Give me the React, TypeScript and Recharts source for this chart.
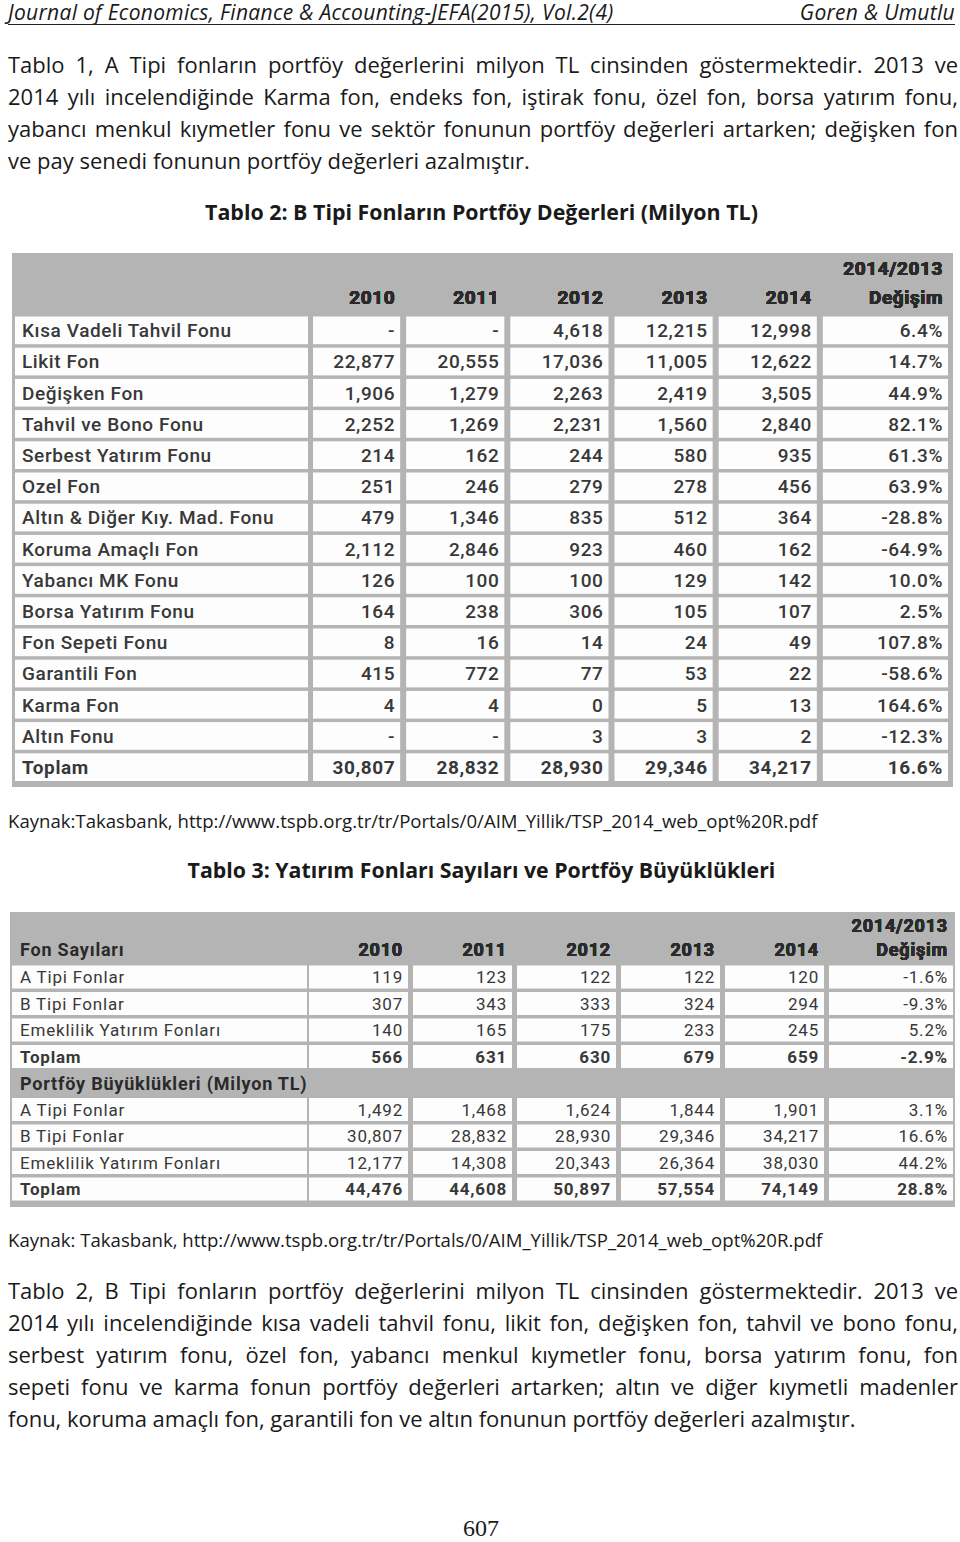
import React from 'react';
import { ScatterChart, Scatter, XAxis, YAxis } from 'recharts';

// Tablo 2: B Tipi Fonların Portföy Değerleri (Milyon TL)
const bFundNames = [
  'Kısa Vadeli Tahvil Fonu',
  'Likit Fon',
  'Değişken Fon',
  'Tahvil ve Bono Fonu',
  'Serbest Yatırım Fonu',
  'Ozel Fon',
  'Altın & Diğer Kıy. Mad. Fonu',
  'Koruma Amaçlı Fon',
  'Yabancı MK Fonu',
  'Borsa Yatırım Fonu',
  'Fon Sepeti Fonu',
  'Garantili Fon',
  'Karma Fon',
  'Altın Fonu',
  'Toplam',
];
const bValues2010 = [null, 22877, 1906, 2252, 214, 251, 479, 2112, 126, 164, 8, 415, 4, null, 30807];
const bValues2011 = [null, 20555, 1279, 1269, 162, 246, 1346, 2846, 100, 238, 16, 772, 4, null, 28832];
const bValues2012 = [4618, 17036, 2263, 2231, 244, 279, 835, 923, 100, 306, 14, 77, 0, 3, 28930];
const bValues2013 = [12215, 11005, 2419, 1560, 580, 278, 512, 460, 129, 105, 24, 53, 5, 3, 29346];
const bValues2014 = [12998, 12622, 3505, 2840, 935, 456, 364, 162, 142, 107, 49, 22, 13, 2, 34217];
const bChange = [6.4, 14.7, 44.9, 82.1, 61.3, 63.9, -28.8, -64.9, 10.0, 2.5, 107.8, -58.6, 164.6, -12.3, 16.6];

// Tablo 3: Yatırım Fonları Sayıları ve Portföy Büyüklükleri
const fundTypes = ['A Tipi Fonlar', 'B Tipi Fonlar', 'Emeklilik Yatırım Fonları', 'Toplam'];
const count2010 = [119, 307, 140, 566];
const count2011 = [123, 343, 165, 631];
const count2012 = [122, 333, 175, 630];
const count2013 = [122, 324, 233, 679];
const count2014 = [120, 294, 245, 659];
const countChange = [-1.6, -9.3, 5.2, -2.9];
const size2010 = [1492, 30807, 12177, 44476];
const size2011 = [1468, 28832, 14308, 44608];
const size2012 = [1624, 28930, 20343, 50897];
const size2013 = [1844, 29346, 26364, 57554];
const size2014 = [1901, 34217, 38030, 74149];
const sizeChange = [3.1, 16.6, 44.2, 28.8];

const years = ['2010', '2011', '2012', '2013', '2014'];
const columns = [...years, 'change'];

type TableRow = { label: string; values: (number | null)[]; change: number | null; bold?: boolean; section?: boolean };

const table2Rows: TableRow[] = bFundNames.map((label, i) => ({
  label,
  values: [bValues2010[i], bValues2011[i], bValues2012[i], bValues2013[i], bValues2014[i]],
  change: bChange[i],
  bold: label === 'Toplam',
}));

const table3Rows: TableRow[] = [
  ...fundTypes.map((label, i) => ({
    label,
    values: [count2010[i], count2011[i], count2012[i], count2013[i], count2014[i]],
    change: countChange[i],
    bold: label === 'Toplam',
  })),
  { label: 'Portföy Büyüklükleri (Milyon TL)', values: [], change: null, section: true },
  ...fundTypes.map((label, i) => ({
    label,
    values: [size2010[i], size2011[i], size2012[i], size2013[i], size2014[i]],
    change: sizeChange[i],
    bold: label === 'Toplam',
  })),
];

const fmtNum = (v: number | null | undefined) => (v == null ? '-' : v.toLocaleString('en-US'));
const fmtPct = (v: number | null) => (v == null ? '' : `${v.toFixed(1)}%`);

const toPoints = (rows: TableRow[]) =>
  rows.flatMap((r, i) =>
    columns.map((col, j) => ({
      rowKey: `r${i}`,
      col,
      text: r.section ? '' : j < years.length ? fmtNum(r.values[j]) : fmtPct(r.change),
      bold: !!r.bold,
      section: !!r.section,
    }))
  );

interface Layout {
  width: number;
  height: number;
  headerH: number;
  rowH: number;
  labelLeft: number;
  labelRight: number;
  plotLeft: number;
  plotRight: number;
  changeExt: number;
  cellGap: number;
  firstGap: number;
  textPad: number;
  labelPad: number;
  fontSize: number;
  headSize: number;
  letterSpacing: number;
  rowWeight: number;
  topY: number;
  yearY: number;
  cornerLabel?: string;
}

const tableFont = 'Roboto, "Liberation Sans", sans-serif';
const ink = '#383838';
const gray = '#b4b4b4';

function DataTable({ rows, L }: { rows: TableRow[]; L: Layout }) {
  const band = (L.plotRight - L.plotLeft) / columns.length;
  const bottom = L.height - L.headerH - rows.length * L.rowH;
  const points = toPoints(rows);
  const txt = { fontFamily: tableFont, fontSize: L.fontSize, letterSpacing: L.letterSpacing, fill: ink };
  const head = { ...txt, fontSize: L.headSize, fontWeight: 700, fill: '#2a2a2a' };

  // snap the scale's positions to band edges so cells tile cleanly
  const snapX = (x: number) => L.plotLeft + Math.round((x - L.plotLeft - band / 2) / band) * band;
  const snapY = (y: number) => L.headerH + Math.round((y - L.headerH - L.rowH / 2) / L.rowH) * L.rowH;

  const headerTick = (props: any) => {
    const { x, payload } = props;
    const isChange = payload.value === 'change';
    const start = snapX(x);
    const right = start + band - 1 - L.textPad + (isChange ? L.changeExt : 0);
    return (
      <g>
        {payload.index === 0 && L.cornerLabel && (
          <text x={L.labelLeft + L.labelPad} y={L.yearY} dominantBaseline="central" {...head}>
            {L.cornerLabel}
          </text>
        )}
        {isChange ? (
          <>
            <text x={right} y={L.topY} textAnchor="end" dominantBaseline="central" {...head}>
              2014/2013
            </text>
            <text x={right} y={L.yearY} textAnchor="end" dominantBaseline="central" {...head}>
              Değişim
            </text>
          </>
        ) : (
          <text x={right} y={L.yearY} textAnchor="end" dominantBaseline="central" {...head}>
            {payload.value}
          </text>
        )}
      </g>
    );
  };

  const rowTick = (props: any) => {
    const { y, payload } = props;
    const row = rows[Number(String(payload.value).slice(1))];
    if (!row) return <g />;
    const top = snapY(y);
    const mid = top + L.rowH / 2;
    if (row.section) {
      return (
        <text x={L.labelLeft + L.labelPad} y={mid} dominantBaseline="central" {...head}>
          {row.label}
        </text>
      );
    }
    return (
      <g>
        <rect x={L.labelLeft} y={top + 1.5} width={L.labelRight - L.labelLeft} height={L.rowH - 3.5} fill="#fdfdfd" />
        <text x={L.labelLeft + L.labelPad} y={mid} dominantBaseline="central" {...txt} fontWeight={row.bold ? 700 : L.rowWeight}>
          {row.label}
        </text>
      </g>
    );
  };

  const cellShape = (props: any) => {
    const d = props.payload;
    if (!d || d.section) return <g />;
    const start = snapX(props.cx);
    const top = snapY(props.cy);
    const isChange = d.col === 'change';
    const left = Math.max(start + L.cellGap, L.labelRight + L.firstGap);
    const right = start + band - 1 + (isChange ? L.changeExt : 0);
    return (
      <g>
        <rect x={left} y={top + 1.5} width={right - left} height={L.rowH - 3.5} fill="#fdfdfd" />
        <text
          x={right - L.textPad}
          y={top + L.rowH / 2}
          textAnchor="end"
          dominantBaseline="central"
          {...txt}
          fontWeight={d.bold ? 700 : L.rowWeight}
        >
          {d.text}
        </text>
      </g>
    );
  };

  return (
    <div style={{ width: L.width, height: L.height, background: gray }}>
      <ScatterChart
        width={L.width}
        height={L.height}
        margin={{ top: 0, right: L.width - L.plotRight, bottom, left: 0 }}
      >
        <XAxis
          xAxisId="cols"
          orientation="top"
          type="category"
          dataKey="col"
          scale="band"
          height={L.headerH}
          allowDuplicatedCategory={false}
          interval={0}
          tickLine={false}
          axisLine={false}
          tick={headerTick}
        />
        <YAxis
          yAxisId="rows"
          type="category"
          dataKey="rowKey"
          scale="band"
          width={L.plotLeft}
          reversed
          allowDuplicatedCategory={false}
          interval={0}
          tickLine={false}
          axisLine={false}
          tick={rowTick}
        />
        <Scatter xAxisId="cols" yAxisId="rows" data={points} shape={cellShape} isAnimationActive={false} />
      </ScatterChart>
    </div>
  );
}

const table2Layout: Layout = {
  width: 941,
  height: 534,
  headerH: 62,
  rowH: 31.2,
  labelLeft: 3,
  labelRight: 296,
  plotLeft: 285,
  plotRight: 910,
  changeExt: 27,
  cellGap: 5,
  firstGap: 5,
  textPad: 5,
  labelPad: 7,
  fontSize: 19,
  headSize: 19,
  letterSpacing: 0.6,
  rowWeight: 500,
  topY: 15,
  yearY: 44,
};

const table3Layout: Layout = {
  width: 945,
  height: 295,
  headerH: 52,
  rowH: 26.5,
  labelLeft: 2,
  labelRight: 297,
  plotLeft: 295,
  plotRight: 919,
  changeExt: 25,
  cellGap: 4,
  firstGap: 2,
  textPad: 5,
  labelPad: 8,
  fontSize: 17,
  headSize: 18,
  letterSpacing: 0.8,
  rowWeight: 400,
  topY: 13,
  yearY: 37,
  cornerLabel: 'Fon Sayıları',
};

const para1 = [
  'Tablo 1, A Tipi fonların portföy değerlerini milyon TL cinsinden göstermektedir. 2013 ve',
  '2014 yılı incelendiğinde Karma fon, endeks fon, iştirak fonu, özel fon, borsa yatırım fonu,',
  'yabancı menkul kıymetler fonu ve sektör fonunun portföy değerleri artarken; değişken fon',
  've pay senedi fonunun portföy değerleri azalmıştır.',
];

const para2 = [
  'Tablo 2, B Tipi fonların portföy değerlerini milyon TL cinsinden göstermektedir. 2013 ve',
  '2014 yılı incelendiğinde kısa vadeli tahvil fonu, likit fon, değişken fon, tahvil ve bono fonu,',
  'serbest yatırım fonu, özel fon, yabancı menkul kıymetler fonu, borsa yatırım fonu, fon',
  'sepeti fonu ve karma fonun portföy değerleri artarken; altın ve diğer kıymetli madenler',
  'fonu, koruma amaçlı fon, garantili fon ve altın fonunun portföy değerleri azalmıştır.',
];

const sourceText = 'http://www.tspb.org.tr/tr/Portals/0/AIM_Yillik/TSP_2014_web_opt%20R.pdf';

const bodyFont = '"Open Sans", Lato, sans-serif';

function Paragraph({ lines, top }: { lines: string[]; top: number }) {
  return (
    <div style={{ position: 'absolute', left: 8, top, width: 950, fontSize: 22, lineHeight: '32px' }}>
      {lines.map((line, i) => (
        <div key={i} style={{ textAlign: 'justify', textAlignLast: i < lines.length - 1 ? 'justify' : 'left' }}>
          {line}
        </div>
      ))}
    </div>
  );
}

export default function App() {
  return (
    <div
      style={{
        position: 'absolute',
        left: 0,
        top: 0,
        width: 960,
        height: 1542,
        background: '#fff',
        color: '#1a1a1a',
        fontFamily: bodyFont,
      }}
    >
      <div
        style={{
          position: 'absolute',
          left: 8,
          top: 0,
          width: 947,
          height: 24,
          lineHeight: '24px',
          borderBottom: '1px solid #222',
          fontStyle: 'italic',
          fontSize: 21,
          letterSpacing: 0.3,
          display: 'flex',
          justifyContent: 'space-between',
        }}
      >
        <span>Journal of Economics, Finance &amp; Accounting-JEFA(2015), Vol.2(4)</span>
        <span>Goren &amp; Umutlu</span>
      </div>

      <Paragraph lines={para1} top={48} />

      <div style={{ position: 'absolute', left: 0, top: 196, width: 963, textAlign: 'center', fontSize: 21.4, fontWeight: 700, lineHeight: '32px' }}>
        Tablo 2: B Tipi Fonların Portföy Değerleri (Milyon TL)
      </div>

      <div style={{ position: 'absolute', left: 12, top: 253 }}>
        <DataTable rows={table2Rows} L={table2Layout} />
      </div>

      <div style={{ position: 'absolute', left: 8, top: 808, fontSize: 18.6, lineHeight: '26px' }}>
        Kaynak:Takasbank, {sourceText}
      </div>

      <div style={{ position: 'absolute', left: 0, top: 854, width: 963, textAlign: 'center', fontSize: 21.3, fontWeight: 700, lineHeight: '32px' }}>
        Tablo 3: Yatırım Fonları Sayıları ve Portföy Büyüklükleri
      </div>

      <div style={{ position: 'absolute', left: 10, top: 912 }}>
        <DataTable rows={table3Rows} L={table3Layout} />
      </div>

      <div style={{ position: 'absolute', left: 8, top: 1227, fontSize: 18.6, lineHeight: '26px' }}>
        Kaynak: Takasbank, {sourceText}
      </div>

      <Paragraph lines={para2} top={1274} />

      <div
        style={{
          position: 'absolute',
          left: 0,
          top: 1514,
          width: 962,
          textAlign: 'center',
          fontFamily: '"Liberation Serif", "DejaVu Serif", serif',
          fontSize: 24,
          lineHeight: '28px',
        }}
      >
        607
      </div>
    </div>
  );
}
